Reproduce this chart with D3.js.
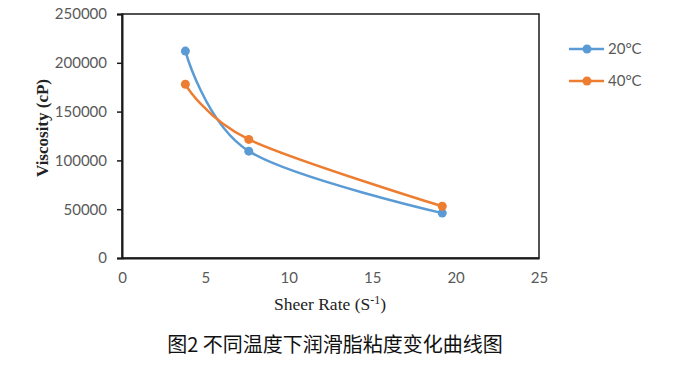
<!DOCTYPE html>
<html>
<head>
<meta charset="UTF-8">
<script src="https://d3js.org/d3.v7.min.js"></script>
<style>
  body { margin: 0; background: #fff; }
</style>
</head>
<body>
<svg width="693" height="370"></svg>
<script>
  // data
  const shearRate = [3.8, 7.6, 19.2];
  const visc20 = [212000, 109500, 46000];
  const visc40 = [178000, 121500, 53000];
  const seriesNames = ['20°C', '40°C'];
  const seriesColors = ['#5B9BD5', '#ED7D31'];
  const xTicks = [0, 5, 10, 15, 20, 25];
  const yTicks = [0, 50000, 100000, 150000, 200000, 250000];

  const svg = d3.select('svg');
  const plot = { left: 122, right: 539, top: 14, bottom: 258 };

  const x = d3.scaleLinear().domain([0, 25]).range([plot.left, plot.right]);
  const y = d3.scaleLinear().domain([0, 250000]).range([plot.bottom, plot.top]);

  // plot box
  svg.append('rect')
    .attr('x', plot.left).attr('y', plot.top)
    .attr('width', plot.right - plot.left).attr('height', plot.bottom - plot.top)
    .attr('fill', 'none').attr('stroke', '#1a1a1a').attr('stroke-width', 1.5);

  // y axis
  const yAxis = svg.append('g')
    .attr('transform', `translate(${plot.left},0)`)
    .call(d3.axisLeft(y).tickValues(yTicks).tickSize(5).tickPadding(10).tickFormat(d3.format('d')));
  yAxis.select('.domain').attr('stroke', '#1a1a1a').attr('stroke-width', 2);
  yAxis.selectAll('.tick line').attr('stroke', '#1a1a1a').attr('stroke-width', 1.5);
  yAxis.selectAll('text').attr('fill', '#595959').attr('font-family', 'Lato, sans-serif').attr('font-size', 15);

  // x axis
  const xAxis = svg.append('g')
    .attr('transform', `translate(0,${plot.bottom})`)
    .call(d3.axisBottom(x).tickValues(xTicks).tickSize(0).tickPadding(14));
  xAxis.select('.domain').attr('stroke', '#1a1a1a').attr('stroke-width', 2);
  xAxis.selectAll('text').attr('fill', '#595959').attr('font-family', 'Lato, sans-serif').attr('font-size', 15);

  // lines and markers
  const line = d3.line()
    .x(d => x(d[0]))
    .y(d => y(d[1]))
    .curve(d3.curveCardinal.tension(0));

  [visc20, visc40].forEach((vals, i) => {
    const pts = shearRate.map((s, j) => [s, vals[j]]);
    svg.append('path')
      .datum(pts)
      .attr('d', line)
      .attr('fill', 'none')
      .attr('stroke', seriesColors[i])
      .attr('stroke-width', 2.5);
    svg.selectAll('.pt' + i)
      .data(pts)
      .enter().append('circle')
      .attr('class', 'pt' + i)
      .attr('cx', d => x(d[0]))
      .attr('cy', d => y(d[1]))
      .attr('r', 4.5)
      .attr('fill', seriesColors[i]);
  });

  // legend
  seriesNames.forEach((name, i) => {
    const ly = 49 + i * 32;
    svg.append('line')
      .attr('x1', 569).attr('x2', 604).attr('y1', ly).attr('y2', ly)
      .attr('stroke', seriesColors[i]).attr('stroke-width', 2.5);
    svg.append('circle')
      .attr('cx', 587).attr('cy', ly).attr('r', 4.5)
      .attr('fill', seriesColors[i]);
    svg.append('text')
      .attr('x', 608).attr('y', ly + 5)
      .attr('fill', '#595959')
      .attr('font-family', 'Lato, sans-serif')
      .attr('font-size', 15)
      .text(name);
  });

  // axis titles
  svg.append('text')
    .attr('transform', 'rotate(-90)')
    .attr('x', -128).attr('y', 48)
    .attr('text-anchor', 'middle')
    .attr('font-family', "'Liberation Serif', serif")
    .attr('font-size', 17)
    .attr('font-weight', 'bold')
    .attr('fill', '#222')
    .text('Viscosity (cP)');

  const xl = svg.append('text')
    .attr('x', 330).attr('y', 310)
    .attr('text-anchor', 'middle')
    .attr('font-family', "'Liberation Serif', serif")
    .attr('font-size', 17.5)
    .attr('fill', '#222');
  xl.append('tspan').text('Sheer Rate (S');
  xl.append('tspan').attr('dy', -6).attr('font-size', 12).text('-1');
  xl.append('tspan').attr('dy', 6).text(')');

  // caption
  svg.append('text')
    .attr('x', 335).attr('y', 352)
    .attr('text-anchor', 'middle')
    .attr('font-family', "'Noto Sans CJK SC', sans-serif")
    .attr('font-size', 20)
    .attr('font-weight', 400)
    .attr('fill', '#111')
    .text('图2 不同温度下润滑脂粘度变化曲线图');
</script>
</body>
</html>
